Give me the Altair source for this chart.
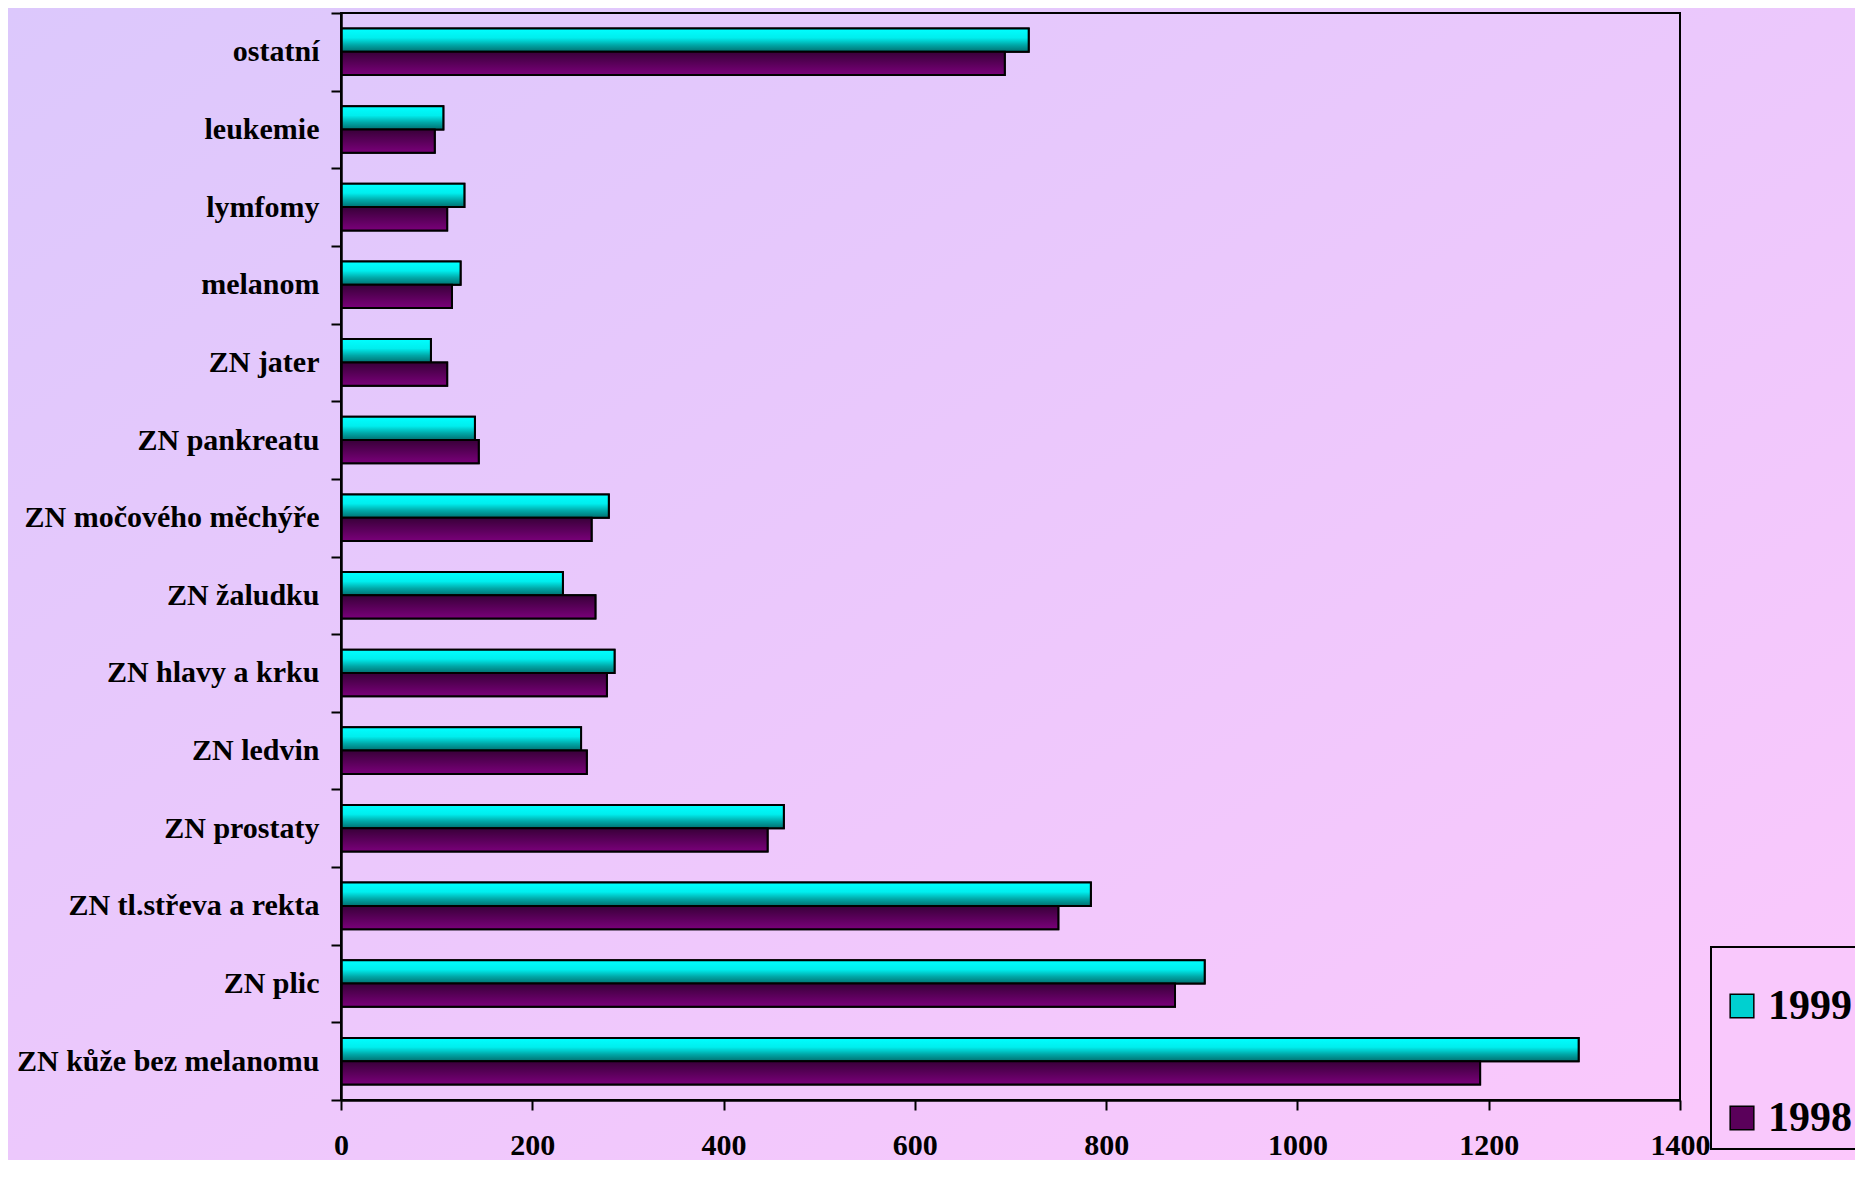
import altair as alt
import pandas as pd

categories = ["ostatní", "leukemie", "lymfomy", "melanom", "ZN jater", "ZN pankreatu",
              "ZN močového měchýře", "ZN žaludku", "ZN hlavy a krku", "ZN ledvin",
              "ZN prostaty", "ZN tl.střeva a rekta", "ZN plic", "ZN kůže bez melanomu"]
values_1999 = [719, 107, 129, 125, 94, 140, 280, 232, 286, 251, 463, 784, 903, 1294]
values_1998 = [694, 98, 111, 116, 111, 144, 262, 266, 278, 257, 446, 750, 872, 1191]
series = ["1999", "1998"]
x_ticks = [0, 200, 400, 600, 800, 1000, 1200, 1400]

rows = []
for c, a, b in zip(categories, values_1999, values_1998):
    rows.append({"category": c, "series": "1999", "value": a})
    rows.append({"category": c, "series": "1998", "value": b})
df = pd.DataFrame(rows)

W, H = 1339, 1087
PL, PT, PR, PB = 333, 5, 175, 60
FONT = "Liberation Serif"

cyan_grad = alt.Gradient(gradient="linear", x1=0, y1=0, x2=0, y2=1,
                         stops=[alt.GradientStop(offset=0, color="#00FFFF"),
                                alt.GradientStop(offset=0.4, color="#00EEEE"),
                                alt.GradientStop(offset=0.7, color="#00A8A8"),
                                alt.GradientStop(offset=1, color="#007070")])
purple_grad = alt.Gradient(gradient="linear", x1=0, y1=0, x2=0, y2=1,
                           stops=[alt.GradientStop(offset=0, color="#380038"),
                                  alt.GradientStop(offset=1, color="#7A007A")])
bg_grad = alt.Gradient(gradient="linear", x1=0, y1=0, x2=1, y2=1,
                       stops=[alt.GradientStop(offset=0, color="#DCC8FC"),
                              alt.GradientStop(offset=1, color="#FCC8FC")])

one = alt.Data(values=[{"a": 1}])
bg = alt.Chart(one).mark_rect(fill=bg_grad).encode(
    x=alt.value(-PL), x2=alt.value(W + PR), y=alt.value(-PT), y2=alt.value(H + PB)
)
frame = alt.Chart(one).mark_rect(fillOpacity=0, stroke="black", strokeWidth=2).encode(
    x=alt.value(0), x2=alt.value(W), y=alt.value(0), y2=alt.value(H)
)

x_enc = alt.X("value:Q", scale=alt.Scale(domain=[0, 1400], nice=False),
              axis=alt.Axis(title=None, values=x_ticks, format="d", grid=False,
                            tickSize=10, tickColor="black", tickWidth=2,
                            domainColor="black", domainWidth=2.5, labelFont=FONT,
                            labelFontSize=30, labelFontWeight="bold",
                            labelColor="black", labelPadding=20, labelFlush=False,
                            zindex=1))
y_enc = alt.Y("category:N", sort=categories,
              scale=alt.Scale(paddingInner=0, paddingOuter=0),
              axis=alt.Axis(title=None, tickBand="extent",
                            tickSize=10, tickColor="black", tickWidth=2,
                            domainColor="black", domainWidth=2.5, labelFont=FONT,
                            labelFontSize=30, labelFontWeight="bold",
                            labelColor="black", labelPadding=12, labelLimit=400,
                            zindex=1))
yoff_enc = alt.YOffset("series:N", scale=alt.Scale(domain=series, paddingInner=0,
                                                   paddingOuter=0.667))

base = alt.Chart(df).mark_bar(stroke="black", strokeWidth=2).encode(
    x=x_enc, y=y_enc, yOffset=yoff_enc,
    color=alt.Color("series:N",
                    scale=alt.Scale(domain=series, range=["#00D0D0", "#5A005A"]),
                    legend=alt.Legend(title=" ", orient="none", legendX=1370,
                                      legendY=934, direction="vertical"))
)

g1999 = alt.Chart(df).transform_filter(alt.datum.series == "1999").mark_bar(
    fill=cyan_grad, stroke="black", strokeWidth=2).encode(
    x=x_enc, y=y_enc, yOffset=yoff_enc)
g1998 = alt.Chart(df).transform_filter(alt.datum.series == "1998").mark_bar(
    fill=purple_grad, stroke="black", strokeWidth=2).encode(
    x=x_enc, y=y_enc, yOffset=yoff_enc)

chart = alt.layer(bg, frame, base, g1999, g1998).properties(
    width=W, height=H,
    padding={"left": PL, "top": PT, "right": PR, "bottom": PB},
    autosize=alt.AutoSizeParams(type="none"),
).configure(background="#EEC8FC").configure_view(
    stroke=None
).configure_legend(
    strokeColor="black", strokeWidth=2, fillColor="#F9C8FC", padding=10,
    rowPadding=70, symbolType="square", symbolSize=560,
    symbolStrokeColor="black", symbolStrokeWidth=1.5, labelFont=FONT,
    labelFontSize=42, labelFontWeight="bold", labelColor="black",
    labelOffset=5, labelLimit=300, titleFontSize=8, titlePadding=20
)

chart.save("out.html", embed_options={"renderer": "svg", "actions": False})
